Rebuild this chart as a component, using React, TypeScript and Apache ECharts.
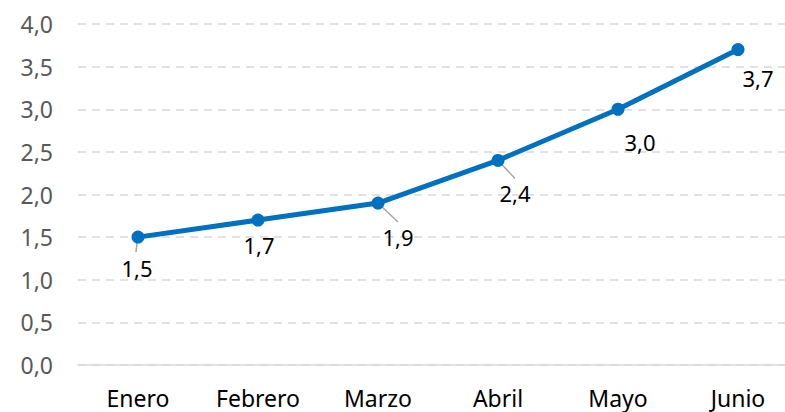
import React, { useEffect, useRef } from "react";
import * as echarts from "echarts";

const categories = ["Enero", "Febrero", "Marzo", "Abril", "Mayo", "Junio"];
const values = [1.5, 1.7, 1.9, 2.4, 3.0, 3.7];
const yTicks = [0, 0.5, 1, 1.5, 2, 2.5, 3, 3.5, 4];

// label offsets (px) from each point, and whether a leader line is drawn
const labelOffsets: [number, number][] = [
  [-1, 31],
  [1, 25],
  [20, 34],
  [17, 33],
  [22, 33],
  [20, 28],
];
const leaders: ([number, number, number, number] | null)[] = [
  [-1, 6, -2, 15],
  null,
  [0, 0, 20, 19],
  [0, 0, 17, 18],
  null,
  null,
];

const fmt = (v: number) => v.toFixed(1).replace(".", ",");
const FONT = "'Noto Sans', sans-serif";

export default function App() {
  const ref = useRef<HTMLDivElement>(null);
  useEffect(() => {
    if (!ref.current) return;
    document.body.style.overflow = "hidden";
    const chart = echarts.init(ref.current, undefined, { renderer: "svg" });
    chart.setOption({
      animation: false,
      grid: { left: 78, right: 2, top: 24, bottom: 47, containLabel: false },
      xAxis: {
        type: "category",
        data: categories,
        boundaryGap: true,
        axisLine: { lineStyle: { color: "#d9d9d9", width: 1.5 } },
        axisTick: { show: false },
        axisLabel: { color: "#000", fontSize: 23, fontFamily: FONT, margin: 21 },
      },
      yAxis: {
        type: "value",
        min: yTicks[0],
        max: yTicks[yTicks.length - 1],
        interval: 0.5,
        axisLine: { show: false },
        axisTick: { show: false },
        axisLabel: {
          color: "#595959",
          fontSize: 23,
          fontFamily: FONT,
          margin: 25,
          formatter: (v: number) => fmt(v),
        },
        splitLine: { lineStyle: { color: "#d9d9d9", type: [8, 6], width: 1.5 } },
      },
      series: [
        {
          type: "custom",
          z: 1,
          data: values.map((v, i) => [i, v]),
          renderItem: (params: any, api: any) => {
            const i = params.dataIndex;
            const l = leaders[i];
            if (!l) return null;
            const p = api.coord([api.value(0), api.value(1)]);
            return {
              type: "line",
              shape: { x1: p[0] + l[0], y1: p[1] + l[1], x2: p[0] + l[2], y2: p[1] + l[3] },
              style: { stroke: "#a6a6a6", lineWidth: 1.5 },
            };
          },
        },
        {
          type: "line",
          z: 3,
          data: values.map((v, i) => ({
            value: v,
            label: { offset: labelOffsets[i] },
          })),
          symbol: "circle",
          symbolSize: 13,
          lineStyle: { color: "#0070c0", width: 5 },
          itemStyle: { color: "#0070c0" },
          label: {
            show: true,
            position: "inside",
            color: "#000",
            fontSize: 22,
            fontFamily: FONT,
            formatter: (p: any) => fmt(p.value),
          },
        },
      ],
    });
    return () => chart.dispose();
  }, []);
  return (
    <div
      ref={ref}
      style={{ position: "fixed", left: 0, top: 0, width: 800, height: 412, background: "#fff" }}
    />
  );
}
